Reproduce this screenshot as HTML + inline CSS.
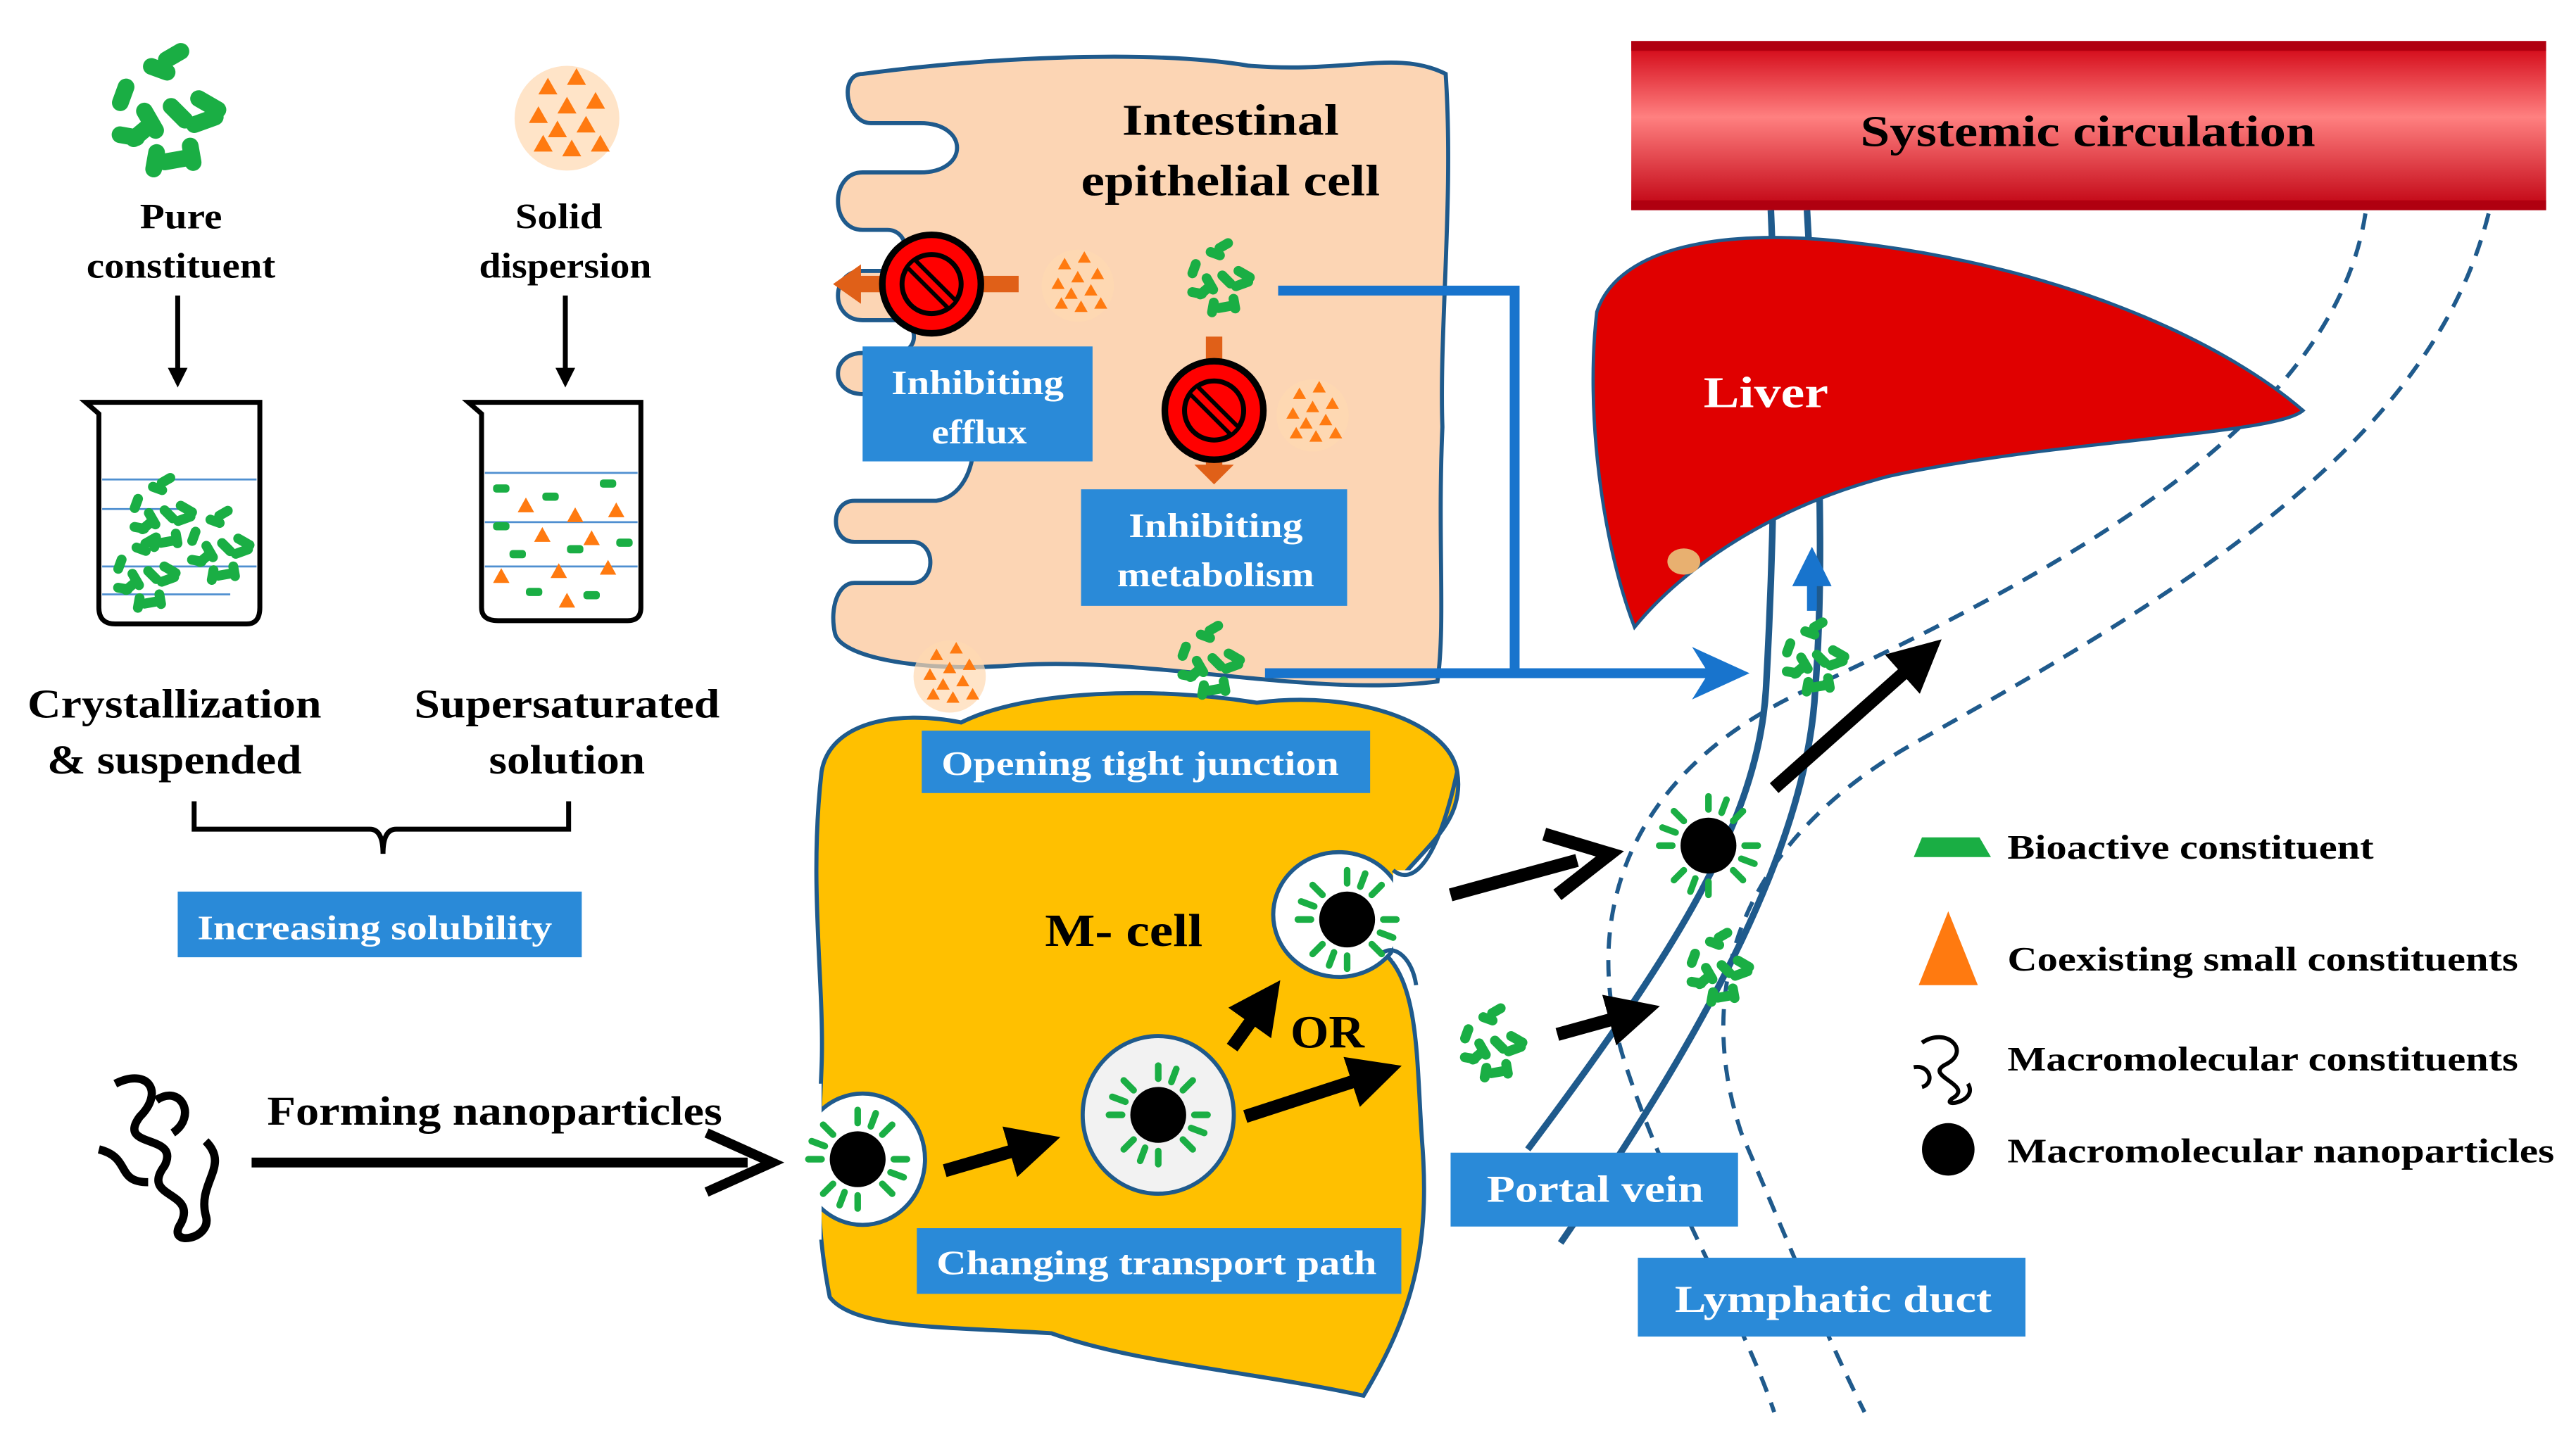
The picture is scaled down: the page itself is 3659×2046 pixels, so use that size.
<!DOCTYPE html>
<html><head><meta charset="utf-8"><style>html,body{margin:0;padding:0;background:#fff}svg{display:block}text{font-family:"Liberation Serif",serif;font-weight:bold}</style></head><body>
<svg width="3659" height="2046" viewBox="0 0 1568 877" xmlns="http://www.w3.org/2000/svg">
<defs>
<linearGradient id="rg" x1="0" y1="0" x2="0" y2="1"><stop offset="0" stop-color="#d00010"/><stop offset="0.45" stop-color="#ff8080"/><stop offset="1" stop-color="#c00010"/></linearGradient>
<g id="cl">
<g fill="#1aae44">
<rect x="-18" y="-6" width="14" height="6" rx="3" transform="rotate(-40)"/>
<rect x="2" y="-14" width="14" height="6" rx="3" transform="rotate(30)"/>
<rect x="-10" y="4" width="14" height="6" rx="3" transform="rotate(60)"/>
<rect x="4" y="2" width="14" height="6" rx="3" transform="rotate(-20)"/>
<rect x="-20" y="6" width="12" height="6" rx="3" transform="rotate(10)"/>
<rect x="-4" y="-22" width="12" height="6" rx="3" transform="rotate(-70)"/>
<rect x="8" y="-8" width="12" height="6" rx="3" transform="rotate(80)"/>
<rect x="-8" y="12" width="14" height="6" rx="3" transform="rotate(-10)"/>
<rect x="-16" y="-18" width="12" height="6" rx="3" transform="rotate(20)"/>
<rect x="-6" y="-6" width="13" height="6" rx="3" transform="rotate(45)"/>
<rect x="6" y="-22" width="12" height="6" rx="3" transform="rotate(-30)"/>
<rect x="-22" y="-6" width="12" height="6" rx="3" transform="rotate(-80)"/>
</g></g>
<g id="tri" fill="#ff7a10">
<circle r="22" fill="#ffd8b0" opacity="0.7"/>
<path d="M-12,-10l4,-7l4,7zM0,-14l4,-7l4,7zM-4,-2l4,-7l4,7zM8,-4l4,-7l4,7zM-16,2l4,-7l4,7zM-8,8l4,-7l4,7zM4,6l4,-7l4,7zM-2,16l4,-7l4,7zM10,14l4,-7l4,7zM-14,14l4,-7l4,7z"/>
</g>
<g id="np">
<circle r="17" fill="#000"/>
<g stroke="#1aae44" stroke-width="4" stroke-linecap="round">
<line x1="0" y1="-22" x2="0" y2="-30"/><line x1="0" y1="22" x2="0" y2="30"/><line x1="22" y1="0" x2="30" y2="0"/><line x1="-22" y1="0" x2="-30" y2="0"/>
<line x1="15" y1="15" x2="21" y2="21"/><line x1="-15" y1="15" x2="-21" y2="21"/><line x1="15" y1="-15" x2="21" y2="-21"/><line x1="-15" y1="-15" x2="-21" y2="-21"/>
<line x1="8" y1="-20" x2="11" y2="-28"/><line x1="-8" y1="20" x2="-11" y2="28"/><line x1="20" y1="8" x2="28" y2="11"/><line x1="-20" y1="-8" x2="-28" y2="-11"/>
</g></g>
<g id="no"><circle r="30" fill="#ff0000" stroke="#000" stroke-width="4"/><circle r="18" fill="none" stroke="#000" stroke-width="3"/><circle r="16" fill="#ff0000"/><line x1="-12" y1="-12" x2="12" y2="12" stroke="#000" stroke-width="9"/><line x1="-12" y1="-12" x2="12" y2="12" stroke="#ff0000" stroke-width="4"/></g>
<marker id="ab" markerWidth="4" markerHeight="4" refX="2" refY="2" orient="auto"><path d="M0,0L4,2L0,4z" fill="#000"/></marker>
<marker id="abl" markerWidth="4" markerHeight="4" refX="2" refY="2" orient="auto"><path d="M0,0L4,2L0,4z" fill="#1874cd"/></marker>
</defs>

<!-- Systemic circulation -->
<rect x="993" y="25" width="557" height="103" fill="url(#rg)"/>
<rect x="993" y="25" width="557" height="6" fill="#b00010"/><rect x="993" y="122" width="557" height="6" fill="#b00010"/>
<text x="1271" y="89" font-size="27" text-anchor="middle" textLength="277" lengthAdjust="spacingAndGlyphs">Systemic circulation</text>

<!-- vessels -->
<g fill="none" stroke="#1f5a8c" stroke-width="4">
<path d="M1078,128 C1082,220 1080,330 1075,420 C1070,500 1020,580 930,700"/>
<path d="M1100,128 C1105,220 1112,330 1105,420 C1100,520 1030,640 950,757"/>
</g>
<g fill="none" stroke="#1f5a8c" stroke-width="2.5" stroke-dasharray="10,7">
<path d="M1440,130 C1420,260 1250,350 1100,420 C990,470 960,560 990,650 C1020,740 1060,800 1080,860"/>
<path d="M1515,130 C1480,270 1330,360 1170,450 C1060,510 1030,600 1060,690 C1090,760 1110,810 1135,860"/>
</g>

<!-- Liver -->
<path d="M972,190 C985,150 1050,138 1130,148 C1250,162 1350,205 1402,250 C1385,265 1250,268 1150,290 C1080,308 1025,345 995,382 C975,330 965,250 972,190 Z" fill="#e00000" stroke="#1f5a8c" stroke-width="2"/>
<ellipse cx="1025" cy="342" rx="10" ry="8" fill="#e8b070"/>
<text x="1075" y="248" font-size="27" fill="#fff" text-anchor="middle" textLength="76" lengthAdjust="spacingAndGlyphs">Liver</text>
<line x1="1103" y1="372" x2="1103" y2="345" stroke="#1874cd" stroke-width="6" marker-end="url(#abl)"/>

<!-- Epithelial cell -->
<path d="M525,45 C600,35 700,30 760,40 C820,45 850,30 880,45 C885,120 876,200 878,260 C875,330 880,380 875,415 C800,425 700,400 620,405 C560,410 510,400 508,385 C505,370 510,355 520,355 L555,355 C570,355 570,330 555,330 L520,330 C505,330 505,305 520,305 L570,305 C600,300 600,240 570,240 L525,240 C505,240 505,215 525,215 L545,215 C560,215 560,195 545,195 L525,195 C505,195 505,165 525,165 L540,165 C555,165 555,140 540,140 L525,140 C505,140 505,105 525,105 L560,105 C590,105 590,75 560,75 L530,75 C515,75 510,45 525,45 Z" fill="#fcd5b4" stroke="#1f5a8c" stroke-width="2.5"/>
<text x="749" y="82" font-size="27" text-anchor="middle" textLength="132" lengthAdjust="spacingAndGlyphs">Intestinal</text>
<text x="749" y="119" font-size="27" text-anchor="middle" textLength="182" lengthAdjust="spacingAndGlyphs">epithelial cell</text>
<rect x="522" y="168" width="98" height="10" fill="#e06018"/>
<path d="M507,173 L524,161 L524,185 Z" fill="#e06018"/>
<use href="#no" x="567" y="173"/>
<use href="#tri" x="656" y="174"/>
<use href="#cl" x="744" y="172"/>
<rect x="734" y="205" width="10" height="80" fill="#e06018"/><path d="M727,283 L751,283 L739,295 Z" fill="#e06018"/>
<use href="#no" x="739" y="250"/>
<use href="#tri" x="799" y="253"/>
<rect x="525" y="211" width="140" height="70" fill="#2a8ad8"/>
<text x="595" y="240" font-size="21" fill="#fff" text-anchor="middle" textLength="105" lengthAdjust="spacingAndGlyphs">Inhibiting</text>
<text x="596" y="270" font-size="21" fill="#fff" text-anchor="middle" textLength="58" lengthAdjust="spacingAndGlyphs">efflux</text>
<rect x="658" y="298" width="162" height="71" fill="#2a8ad8"/>
<text x="740" y="327" font-size="21" fill="#fff" text-anchor="middle" textLength="106" lengthAdjust="spacingAndGlyphs">Inhibiting</text>
<text x="740" y="357" font-size="21" fill="#fff" text-anchor="middle" textLength="120" lengthAdjust="spacingAndGlyphs">metabolism</text>

<!-- blue path arrows -->
<polyline points="778,177 922,177 922,410" fill="none" stroke="#1874cd" stroke-width="6"/>
<line x1="770" y1="410" x2="1045" y2="410" stroke="#1874cd" stroke-width="6"/>
<path d="M1030,394 L1065,410 L1030,426 L1040,410 Z" fill="#1874cd"/>

<!-- M cell -->
<path d="M500,470 C505,440 545,432 585,440 C625,420 705,418 765,428 C825,420 882,440 887,470 C892,500 868,515 850,538 L842,580 C865,600 862,650 866,700 C870,760 860,800 830,850 C760,835 690,830 640,812 C580,808 520,810 505,790 C495,740 498,700 500,650 C502,600 492,540 500,470 Z" fill="#ffc000" stroke="#1f5a8c" stroke-width="2.5"/>
<ellipse cx="815" cy="557" rx="40" ry="38" fill="#fff" stroke="#1f5a8c" stroke-width="2.5"/>
<rect x="848" y="530" width="20" height="55" fill="#fff"/>
<path d="M848,530 C860,540 875,525 887,470" fill="none" stroke="#1f5a8c" stroke-width="2.5"/>
<path d="M842,580 C850,575 860,585 862,600" fill="none" stroke="#1f5a8c" stroke-width="2.5"/>
<use href="#np" x="820" y="560"/>
<ellipse cx="525" cy="706" rx="38" ry="40" fill="#fff" stroke="#1f5a8c" stroke-width="2.5"/>
<rect x="480" y="660" width="20" height="95" fill="#fff"/>
<use href="#np" x="522" y="706"/>
<ellipse cx="705" cy="679" rx="46" ry="48" fill="#f2f2f2" stroke="#1f5a8c" stroke-width="2.5"/>
<use href="#np" x="705" y="679"/>
<text x="684" y="576" font-size="28" text-anchor="middle" textLength="96" lengthAdjust="spacingAndGlyphs">M- cell</text>
<text x="808" y="638" font-size="28" text-anchor="middle" textLength="45" lengthAdjust="spacingAndGlyphs">OR</text>
<line x1="575" y1="713" x2="630" y2="697" stroke="#000" stroke-width="8" marker-end="url(#ab)"/>
<line x1="750" y1="638" x2="770" y2="610" stroke="#000" stroke-width="8" marker-end="url(#ab)"/>
<line x1="758" y1="680" x2="838" y2="654" stroke="#000" stroke-width="8" marker-end="url(#ab)"/>
<rect x="561" y="445" width="273" height="38" fill="#2a8ad8"/>
<text x="694" y="472" font-size="21" fill="#fff" text-anchor="middle" textLength="242" lengthAdjust="spacingAndGlyphs">Opening tight junction</text>
<rect x="558" y="748" width="295" height="40" fill="#2a8ad8"/>
<text x="704" y="776" font-size="21" fill="#fff" text-anchor="middle" textLength="268" lengthAdjust="spacingAndGlyphs">Changing transport path</text>
<use href="#tri" x="578" y="412"/>
<use href="#cl" x="738" y="405"/>

<!-- right side particles -->
<line x1="883" y1="545" x2="960" y2="524" stroke="#000" stroke-width="8"/>
<path d="M940,508 L980,520 L948,545" fill="none" stroke="#000" stroke-width="8"/>
<use href="#cl" x="910" y="638"/>
<line x1="948" y1="630" x2="995" y2="617" stroke="#000" stroke-width="8" marker-end="url(#ab)"/>
<use href="#np" x="1040" y="515"/>
<use href="#cl" x="1048" y="592"/>
<use href="#cl" x="1106" y="403"/>
<line x1="1080" y1="480" x2="1170" y2="400" stroke="#000" stroke-width="8" marker-end="url(#ab)"/>
<rect x="883" y="702" width="175" height="45" fill="#2a8ad8"/>
<text x="971" y="732" font-size="23" fill="#fff" text-anchor="middle" textLength="132" lengthAdjust="spacingAndGlyphs">Portal vein</text>
<rect x="997" y="766" width="236" height="48" fill="#2a8ad8"/>
<text x="1116" y="799" font-size="23" fill="#fff" text-anchor="middle" textLength="193" lengthAdjust="spacingAndGlyphs">Lymphatic duct</text>

<!-- legend -->
<path d="M1165,522 L1170,510 L1205,510 L1212,522 Z" fill="#1aae44"/>
<text x="1222" y="523" font-size="21" textLength="223" lengthAdjust="spacingAndGlyphs">Bioactive constituent</text>
<path d="M1168,600 L1186,555 L1204,600 Z" fill="#ff7a10"/>
<text x="1222" y="591" font-size="21" textLength="311" lengthAdjust="spacingAndGlyphs">Coexisting small constituents</text>
<path d="M1170,635 C1185,625 1200,640 1185,648 C1170,655 1200,660 1190,668 C1178,675 1205,672 1198,660 M1165,650 C1175,648 1178,660 1170,662" fill="none" stroke="#000" stroke-width="2.5"/>
<text x="1222" y="652" font-size="21" textLength="311" lengthAdjust="spacingAndGlyphs">Macromolecular  constituents</text>
<circle cx="1186" cy="700" r="16" fill="#000"/>
<text x="1222" y="708" font-size="21" textLength="333" lengthAdjust="spacingAndGlyphs">Macromolecular   nanoparticles</text>

<!-- Left: beakers -->
<use href="#cl" transform="translate(104,72) scale(1.7)"/>
<use href="#tri" transform="translate(345,72) scale(1.45)"/>
<text x="110" y="139" font-size="22" text-anchor="middle" textLength="50" lengthAdjust="spacingAndGlyphs">Pure</text>
<text x="110" y="169" font-size="22" text-anchor="middle" textLength="115" lengthAdjust="spacingAndGlyphs">constituent</text>
<text x="340" y="139" font-size="22" text-anchor="middle" textLength="53" lengthAdjust="spacingAndGlyphs">Solid</text>
<text x="344" y="169" font-size="22" text-anchor="middle" textLength="105" lengthAdjust="spacingAndGlyphs">dispersion</text>
<line x1="108" y1="180" x2="108" y2="230" stroke="#000" stroke-width="3" marker-end="url(#ab)"/>
<line x1="344" y1="180" x2="344" y2="230" stroke="#000" stroke-width="3" marker-end="url(#ab)"/>
<path d="M52,245 L60,252 L60,370 Q60,380 70,380 L150,380 Q158,380 158,370 L158,245 Z" fill="none" stroke="#000" stroke-width="3"/>
<path d="M285,245 L293,252 L293,370 Q293,378 303,378 L382,378 Q390,378 390,370 L390,245 Z" fill="none" stroke="#000" stroke-width="3"/>
<g stroke="#4f8fd0" stroke-width="1.2"><line x1="62" y1="292" x2="156" y2="292"/><line x1="62" y1="310" x2="110" y2="310"/><line x1="62" y1="345" x2="156" y2="345"/><line x1="62" y1="362" x2="140" y2="362"/><line x1="295" y1="288" x2="388" y2="288"/><line x1="295" y1="318" x2="388" y2="318"/><line x1="295" y1="345" x2="388" y2="345"/></g>
<use href="#cl" x="100" y="315"/><use href="#cl" x="135" y="335"/><use href="#cl" x="90" y="352"/>
<g fill="#1aae44"><rect x="300" y="295" width="10" height="5" rx="2"/><rect x="330" y="300" width="10" height="5" rx="2"/><rect x="365" y="292" width="10" height="5" rx="2"/><rect x="310" y="335" width="10" height="5" rx="2"/><rect x="345" y="332" width="10" height="5" rx="2"/><rect x="375" y="328" width="10" height="5" rx="2"/><rect x="320" y="358" width="10" height="5" rx="2"/><rect x="355" y="360" width="10" height="5" rx="2"/><rect x="300" y="318" width="10" height="5" rx="2"/></g>
<g fill="#ff7a10"><path d="M315,312l5,-9l5,9zM345,318l5,-9l5,9zM370,315l5,-9l5,9zM300,355l5,-9l5,9zM335,352l5,-9l5,9zM365,350l5,-9l5,9zM325,330l5,-9l5,9zM355,332l5,-9l5,9zM340,370l5,-9l5,9z"/></g>
<text x="106" y="437" font-size="25" text-anchor="middle" textLength="179" lengthAdjust="spacingAndGlyphs">Crystallization</text>
<text x="106" y="471" font-size="25" text-anchor="middle" textLength="155" lengthAdjust="spacingAndGlyphs">&amp; suspended</text>
<text x="345" y="437" font-size="25" text-anchor="middle" textLength="186" lengthAdjust="spacingAndGlyphs">Supersaturated</text>
<text x="345" y="471" font-size="25" text-anchor="middle" textLength="95" lengthAdjust="spacingAndGlyphs">solution</text>
<path d="M118,488 L118,505 L225,505 Q233,505 233,520 Q233,505 241,505 L346,505 L346,488" fill="none" stroke="#000" stroke-width="3"/>
<rect x="108" y="543" width="246" height="40" fill="#2a8ad8"/>
<text x="228" y="572" font-size="21" fill="#fff" text-anchor="middle" textLength="216" lengthAdjust="spacingAndGlyphs">Increasing  solubility</text>
<path d="M70,660 C90,650 100,665 85,680 C70,700 110,690 100,710 C85,730 120,725 110,745 C100,760 130,755 125,740 C120,720 140,710 125,695 M60,700 C80,705 70,720 90,720 M95,670 C110,660 120,680 105,690" fill="none" stroke="#000" stroke-width="5"/>
<text x="301" y="685" font-size="25" text-anchor="middle" textLength="277" lengthAdjust="spacingAndGlyphs">Forming nanoparticles</text>
<line x1="153" y1="708" x2="455" y2="708" stroke="#000" stroke-width="6"/>
<path d="M430,690 L470,708 L430,726" fill="none" stroke="#000" stroke-width="6"/>
</svg>
</body></html>
